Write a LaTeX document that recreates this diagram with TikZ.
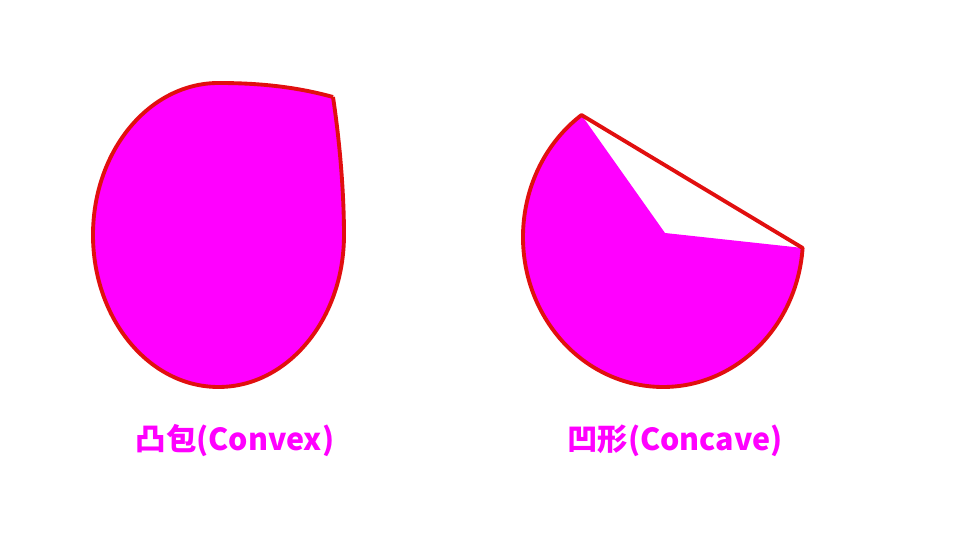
\documentclass[tikz,border=0pt]{standalone}
\usepackage{fontspec}
\newfontfamily\cjk{Noto Sans CJK SC}
\usetikzlibrary{calc}
\definecolor{shapefill}{RGB}{255,0,255}
\definecolor{edgered}{RGB}{225,15,15}

\begin{document}
\begin{tikzpicture}[
  blob/.style={fill=shapefill, draw=edgered, line width=1.1pt, line join=round},
  outline/.style={draw=edgered, line width=1.1pt, line join=round},
  caption/.style={text=shapefill, font=\cjk\bfseries\fontsize{8.65pt}{10pt}\selectfont, inner sep=0pt}
]
  \useasboundingbox (0,0) rectangle (9.6,5.4);
  % Convex shape
  \draw[blob] (3.33,4.43) .. controls (3.41,3.90) and (3.44,3.40) .. (3.44,3.05)
    arc[start angle=0, end angle=-180, x radius=1.255, y radius=1.52]
    arc[start angle=180, end angle=90, x radius=1.255, y radius=1.52]
    .. controls (2.65,4.57) and (3.00,4.52) .. (3.33,4.43);
  % Concave shape: pie piece with its vertex pushed in
  \coordinate (c) at (6.63,3.03);
  \coordinate (tip) at ($(c)+(125.6:1.40 and 1.50)$);
  \coordinate (inner) at (6.65,3.07);
  \fill[shapefill] (inner) -- (tip) arc[start angle=125.6, end angle=355.8, x radius=1.40, y radius=1.50] -- cycle;
  \draw[outline] (tip) arc[start angle=125.6, end angle=355.8, x radius=1.40, y radius=1.50] -- cycle;
  % Labels
  \node[caption] (convexlabel) at (2.35,0.99) {凸包(Convex)};
  \node[caption] (concavelabel) at (6.75,0.99) {凹形(Concave)};
\end{tikzpicture}
\end{document}
